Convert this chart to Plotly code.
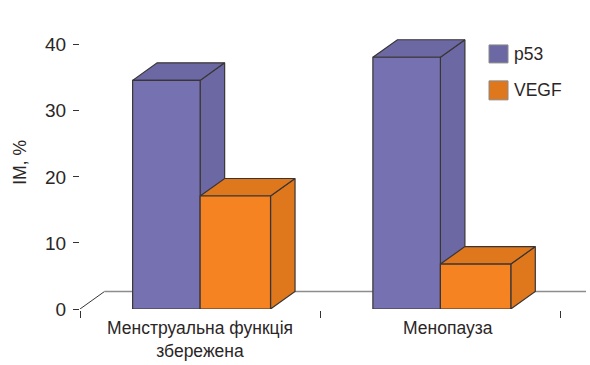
import plotly.graph_objects as go

# Chart values
categories = ["Менструальна функція<br>збережена", "Менопауза"]
category_positions = [0, 1]
p53_values = [34.6, 38.1]
vegf_values = [17.1, 6.8]
y_ticks = [0, 10, 20, 30, 40]
x_ticks = [-0.5, 0.5, 1.5]

# Colours
P53_FRONT, P53_SIDE, P53_TOP = "#7672B2", "#6B68A3", "#6B68A3"
VEGF_FRONT, VEGF_SIDE, VEGF_TOP = "#F58322", "#DF771D", "#DF771D"
EDGE = "#3A3535"
FONT = "Liberation Sans"
TEXT = "#2B2626"
FONT_SIZE = 17.5

# Pseudo-3D extrusion, in axis units
DEPTH_X = 0.102
DEPTH_Y = 2.65
P53_WIDTH = 0.281
VEGF_WIDTH = 0.293


def box_faces(fig, left, right, value, top_colour, side_colour, zorder):
    """Add the top and side faces of an extruded bar."""
    xs = [right, right + DEPTH_X, right + DEPTH_X, right, right]
    ys = [0, DEPTH_Y, value + DEPTH_Y, value, 0]
    fig.add_trace(go.Scatter(x=xs, y=ys, mode="lines", fill="toself", fillcolor=side_colour,
                             line=dict(color=EDGE, width=1.2), showlegend=False,
                             hoverinfo="skip", zorder=zorder))
    xt = [left, left + DEPTH_X, right + DEPTH_X, right, left]
    yt = [value, value + DEPTH_Y, value + DEPTH_Y, value, value]
    fig.add_trace(go.Scatter(x=xt, y=yt, mode="lines", fill="toself", fillcolor=top_colour,
                             line=dict(color=EDGE, width=1.2), showlegend=False,
                             hoverinfo="skip", zorder=zorder))


fig = go.Figure()

# Floor of the chart, behind the bars
fig.add_trace(go.Scatter(x=[-0.5, -0.5 + DEPTH_X], y=[0, DEPTH_Y], mode="lines",
                         line=dict(color="#3A3535", width=1), showlegend=False,
                         hoverinfo="skip", zorder=0))
fig.add_trace(go.Scatter(x=[-0.5 + DEPTH_X, 1.606], y=[DEPTH_Y, DEPTH_Y], mode="lines",
                         line=dict(color="#8E8C8C", width=1.5), showlegend=False,
                         hoverinfo="skip", zorder=0))

# p53 bars and their faces
for pos, val in zip(category_positions, p53_values):
    box_faces(fig, pos - P53_WIDTH, pos, val, P53_TOP, P53_SIDE, 1)
fig.add_trace(go.Bar(x=category_positions, y=p53_values, width=P53_WIDTH, offset=-P53_WIDTH,
                     marker=dict(color=P53_FRONT, line=dict(color=EDGE, width=1.2)),
                     name="p53", showlegend=False, zorder=2))

# VEGF bars sit in front of the p53 side faces
for pos, val in zip(category_positions, vegf_values):
    box_faces(fig, pos, pos + VEGF_WIDTH, val, VEGF_TOP, VEGF_SIDE, 3)
fig.add_trace(go.Bar(x=category_positions, y=vegf_values, width=VEGF_WIDTH, offset=0,
                     marker=dict(color=VEGF_FRONT, line=dict(color=EDGE, width=1.2)),
                     name="VEGF", showlegend=False, zorder=4))

# Category labels
for pos, label, shift in zip(category_positions, categories, [0, 8]):
    fig.add_annotation(x=pos, y=0, yref="y", xref="x", text=label, showarrow=False,
                       yanchor="top", xshift=shift, yshift=-7,
                       font=dict(family=FONT, size=FONT_SIZE, color=TEXT))

# Key
for y0, y1, colour, label in [(45, 63, P53_SIDE, "p53"), (81, 100, VEGF_SIDE, "VEGF")]:
    fig.add_shape(type="rect", xref="paper", yref="paper",
                  x0=(489 - 80) / 506, x1=(508 - 80) / 506,
                  y0=(309.5 - y1) / 299.5, y1=(309.5 - y0) / 299.5,
                  fillcolor=colour, line=dict(color="#8A8A8A", width=1))
    fig.add_annotation(xref="paper", yref="paper", x=(514 - 80) / 506,
                       y=(309.5 - (y0 + y1) / 2) / 299.5, text=label, showarrow=False,
                       xanchor="left", yanchor="middle", xshift=-2,
                       font=dict(family=FONT, size=FONT_SIZE, color=TEXT))

# Rotated value-axis caption
fig.add_annotation(xref="paper", yref="paper", x=(20 - 80) / 506, y=(309.5 - 163) / 299.5,
                   text="IM, %", textangle=-90, showarrow=False, xanchor="center", yanchor="middle",
                   font=dict(family=FONT, size=FONT_SIZE, color=TEXT))

fig.update_layout(
    width=590, height=365,
    margin=dict(l=80, r=4, t=10, b=55.5, pad=0),
    paper_bgcolor="white", plot_bgcolor="white",
    barmode="overlay", showlegend=False,
    font=dict(family=FONT, size=FONT_SIZE, color=TEXT),
    xaxis=dict(range=[-0.5, 1.606], tickvals=x_ticks, ticktext=["", "", ""], ticks="outside",
               ticklen=7, tickwidth=1, tickcolor="#333333", showgrid=False, zeroline=False,
               showline=True, linecolor="#333333", linewidth=1.5),
    yaxis=dict(range=[0, 45.25], tickvals=y_ticks, ticks="outside", ticklen=6, tickwidth=1,
               tickcolor="#333333", showgrid=False, zeroline=False, showline=True,
               linecolor="#333333", linewidth=1.2, ticklabelstandoff=3,
               tickfont=dict(family=FONT, size=19, color=TEXT)),
)

fig.write_html("out.html")
